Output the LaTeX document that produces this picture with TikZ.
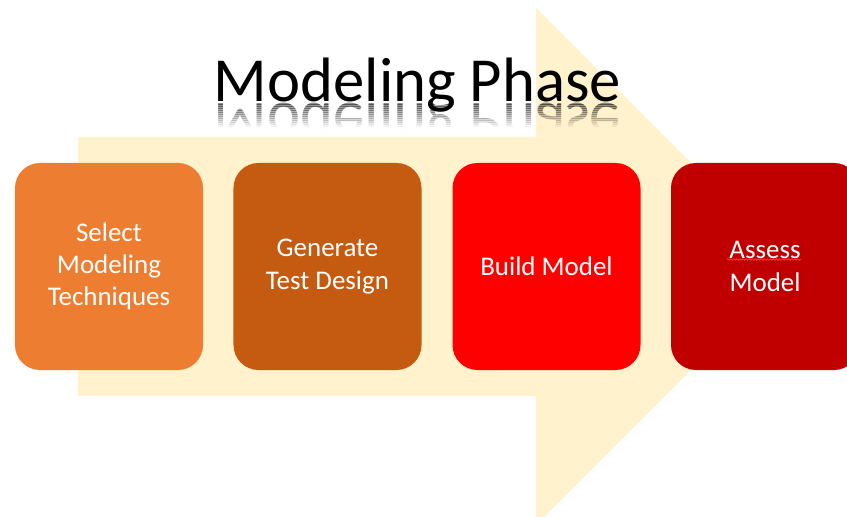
\documentclass[tikz,border=0pt]{standalone}
\usepackage{fontspec}
\setmainfont{Carlito}
\usepackage{tikz}
\usetikzlibrary{decorations.pathmorphing}
\definecolor{arrowcream}{HTML}{FFF2CC}
\definecolor{stageA}{HTML}{ED7D31}
\definecolor{stageB}{HTML}{C55A11}
\definecolor{stageC}{HTML}{FF0000}
\definecolor{stageD}{HTML}{C00000}

\begin{document}
\begin{tikzpicture}[x=0.03cm,y=-0.03cm,
    stage/.style={rounded corners=0.75cm,minimum width=5.64cm,minimum height=6.21cm,
      inner sep=0pt,text=white,align=center,font=\fontsize{23}{27.5}\selectfont},
    heading/.style={anchor=base,inner sep=0pt,font=\fontsize{53.5}{64}\selectfont},
    squiggle/.style={red!80!white,line width=.7pt,decorate,
      decoration={zigzag,amplitude=.6pt,segment length=2.6pt}}]
  \useasboundingbox (0,0) rectangle (847,517);
  \fill[arrowcream] (78,137)--(536,137)--(536,8)--(794.5,266.5)--(536,525)--(536,396)
    --(78,396)--cycle;
  \node[heading] (title) at (417.5,102) {Modeling Phase};
  % mirrored copy, faded out strip by strip
  \foreach \i [evaluate=\i as \op using .45-.037*\i] in {0,...,12} {
    \begin{scope}
      \clip (190,103+2*\i) rectangle (650,105+2*\i);
      \node[heading,yscale=-1,text opacity=\op] (mirror\i) at (417.5,104) {Modeling Phase};
    \end{scope}}
  \foreach \n/\x/\c/\t in {select/109/stageA/{Select\\Modeling\\Techniques},
      generate/327.5/stageB/{Generate\\Test Design},build/546.5/stageC/{Build Model},
      assess/765/stageD/{Assess\\Model}}
    \node[stage,fill=\c] (\n) at (\x,266.5) {\t};
  \draw[squiggle,shift={(assess.center)}] (-38,-7) -- (36,-7);
\end{tikzpicture}
\end{document}
